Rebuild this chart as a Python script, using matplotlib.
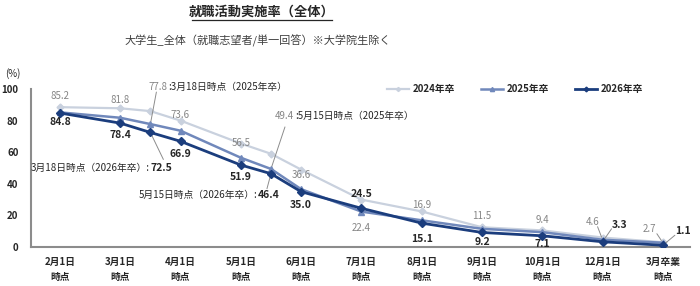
import matplotlib
matplotlib.use("Agg")
import matplotlib.pyplot as plt
from matplotlib.lines import Line2D

plt.rcParams['font.family'] = ['Noto Sans CJK JP', 'DejaVu Sans']

# ---- data ----
tick_labels = ["2月1日\n時点", "3月1日\n時点", "4月1日\n時点", "5月1日\n時点", "6月1日\n時点",
               "7月1日\n時点", "8月1日\n時点", "9月1日\n時点", "10月1日\n時点", "12月1日\n時点", "3月卒業\n時点"]
# survey points: main ticks plus 3/18 and 5/15 (placed midway)
point_names = ["2/1", "3/1", "3/18", "4/1", "5/1", "5/15", "6/1", "7/1", "8/1", "9/1", "10/1", "12/1", "3月卒業"]
s2024 = [88.5, 87.8, 86.0, 80.0, 65.5, 59.0, 49.0, 30.0, 22.5, 12.5, 10.5, 6.0, 3.0]
s2025 = [85.2, 81.8, 77.8, 73.6, 56.5, 49.4, 36.6, 22.4, 16.9, 11.5, 9.4, 4.6, 2.7]
s2026 = [84.8, 78.4, 72.5, 66.9, 51.9, 46.4, 35.0, 24.5, 15.1, 9.2, 7.1, 3.3, 1.1]
series_names = ["2024年卒", "2025年卒", "2026年卒"]

# position of each survey point on the category axis
main_names = ["2/1", "3/1", "4/1", "5/1", "6/1", "7/1", "8/1", "9/1", "10/1", "12/1", "3月卒業"]
def pos(name):
    if name == "3/18":
        return 1.5
    if name == "5/15":
        return 3.5
    return float(main_names.index(name))
xs = [pos(n) for n in point_names]

c24 = "#c9d1de"
c25 = "#7088bb"
c26 = "#1b3d7d"
gray_txt = "#858585"
dark_txt = "#262626"

fig = plt.figure(figsize=(7.0, 2.86), dpi=100)
ax = fig.add_axes([31/700, 1-247/286, (690-31)/700, (247-89)/286])

ax.plot(xs, s2024, color=c24, lw=1.6, marker="D", ms=3.5, zorder=2, label=series_names[0])
ax.plot(xs, s2025, color=c25, lw=1.8, marker="^", ms=5, zorder=3, label=series_names[1])
ax.plot(xs, s2026, color=c26, lw=2.0, marker="D", ms=4, zorder=4, label=series_names[2])

ax.set_xlim(-0.48, 10.45)
ax.set_ylim(0, 100)
ax.set_yticks([0, 20, 40, 60, 80, 100])
ax.set_xticks(range(len(tick_labels)))
ax.set_xticklabels(tick_labels, fontsize=7, fontweight="bold", color=dark_txt, linespacing=1.6)
for t in ax.get_yticklabels():
    t.set_fontsize(7)
    t.set_fontweight("bold")
    t.set_color(dark_txt)
ax.tick_params(axis="both", length=0)
ax.tick_params(axis="y", pad=9)
ax.tick_params(axis="x", pad=7)
for s in ["top", "right"]:
    ax.spines[s].set_visible(False)
for s in ["left", "bottom"]:
    ax.spines[s].set_color("#8c8c8c")
    ax.spines[s].set_linewidth(1.5)

# ---- value labels (offsets in pixels, +y up) ----
off26 = {"2/1": (0, -9), "3/1": (0, -12), "4/1": (0, -13), "5/1": (0, -12), "6/1": (0, -13),
         "7/1": (0, 14), "8/1": (0, -16), "9/1": (0, -10), "10/1": (0, -8),
         "12/1": (17, 17), "3月卒業": (20, 14)}
off25 = {"2/1": (0, 16), "3/1": (0, 18), "4/1": (0, 16), "5/1": (0, 15), "6/1": (0, 14),
         "7/1": (0, -16), "8/1": (0, 15), "9/1": (0, 13), "10/1": (0, 12),
         "12/1": (-10, 18), "3月卒業": (-13, 14)}
for i, n in enumerate(point_names):
    if n in off26:
        ax.annotate(f"{s2026[i]:.1f}", xy=(xs[i], s2026[i]), xytext=off26[n],
                    textcoords="offset pixels", ha="center", va="center",
                    fontsize=7.5, fontweight="bold", color=dark_txt)
    if n in off25:
        ax.annotate(f"{s2025[i]:.1f}", xy=(xs[i], s2025[i]), xytext=off25[n],
                    textcoords="offset pixels", ha="center", va="center",
                    fontsize=7, color=gray_txt)

i318 = point_names.index("3/18")
i515 = point_names.index("5/15")

def left_pair(x, y, val, text, dx, dy):
    a = ax.annotate(f"{val:.1f}", xy=(x, y), xytext=(dx, dy), textcoords="offset pixels",
                    ha="left", va="center", fontsize=7, color=gray_txt)
    ax.annotate(text, xy=(1, 0.5), xycoords=a, xytext=(1, 0), textcoords="offset pixels",
                ha="left", va="center", fontsize=7, color=dark_txt)

def right_pair(x, y, val, text, dx, dy):
    a = ax.annotate(f"{val:.1f}", xy=(x, y), xytext=(dx, dy), textcoords="offset pixels",
                    ha="right", va="center", fontsize=7.5, fontweight="bold", color=dark_txt)
    ax.annotate(text, xy=(0, 0.5), xycoords=a, xytext=(-1, 0), textcoords="offset pixels",
                ha="right", va="center", fontsize=7, color=dark_txt)

left_pair(xs[i318], s2025[i318], s2025[i318], ":3月18日時点（2025年卒）", -2, 37)
right_pair(xs[i318], s2026[i318], s2026[i318], "3月18日時点（2026年卒）:", 22, -36)
left_pair(xs[i515], s2025[i515], s2025[i515], ":5月15日時点（2025年卒）", 4, 53)
right_pair(xs[i515], s2026[i515], s2026[i515], "5月15日時点（2026年卒）:", 9, -21)

# ---- leader lines ----
lp = dict(arrowstyle="-", color="#8c8c8c", lw=0.7, shrinkA=0, shrinkB=2)
def leader(x, y, dx, dy):
    ax.annotate("", xy=(x, y), xytext=(dx, dy), textcoords="offset pixels", arrowprops=lp)
leader(xs[i318], s2025[i318], 6, 32)
leader(xs[i318], s2026[i318], 13, -27)
leader(xs[i515], s2025[i515], 14, 42)
leader(xs[i515], s2026[i515], -4, -15)
i12 = point_names.index("12/1")
iG = point_names.index("3月卒業")
leader(xs[i12], s2025[i12], -5, 13)
leader(xs[i12], s2026[i12], 9, 13)
leader(xs[iG], s2025[iG], -6, 9)
leader(xs[iG], s2026[iG], 12, 10)

# ---- titles ----
fig.text(262/700, 1-12/286, "就職活動実施率（全体）", ha="center", va="center",
         fontsize=9.5, fontweight="bold", color=dark_txt)
fig.add_artist(Line2D([192/700, 332/700], [1-20/286, 1-20/286], color=dark_txt, lw=0.9))
fig.text(258/700, 1-41/286, "大学生_全体（就職志望者/単一回答）※大学院生除く", ha="center",
         va="center", fontsize=8, color="#404040")
fig.text(13/700, 1-74/286, "(%)", ha="center", va="center", fontsize=7, color=dark_txt)

# ---- legend ----
leg = ax.legend(loc="center right", bbox_to_anchor=(652/700, 1-89/286),
                bbox_transform=fig.transFigure, ncol=3, frameon=False, fontsize=7,
                handlelength=2.3, columnspacing=2.6, handletextpad=0.4, markerscale=0.6)
for t in leg.get_texts():
    t.set_fontweight("bold")
    t.set_color(dark_txt)

fig.savefig("out.png", dpi=100)
